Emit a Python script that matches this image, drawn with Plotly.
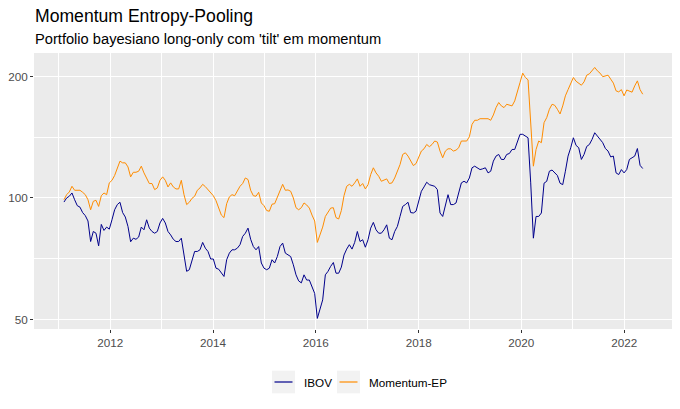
import pandas as pd
import plotly.graph_objects as go

# sample dates (regular ~19-day grid)
dates = pd.date_range("2011-02-06", periods=218, freq="455h")

momentum_ep = [
    99.0, 101.9, 103.5, 106.9, 104.5, 104.5, 104.5, 103.3, 101.9, 99.0,
    93.5, 98.1, 98.7, 95.3, 101.3, 102.9, 101.9, 109.0, 110.6, 113.7,
    118.8, 123.4, 122.2, 122.2, 119.4, 112.8, 115.8, 115.8, 116.5, 119.9,
    115.4, 111.5, 108.6, 108.6, 104.9, 105.9, 110.6, 112.8, 110.6, 106.5,
    109.0, 106.5, 105.3, 105.3, 110.6, 101.9, 96.3, 97.6, 99.8, 101.0, 104.5,
    105.9, 108.1, 106.7, 104.9, 103.1, 101.3, 98.5, 94.4, 90.7, 89.4,
    96.8, 100.6, 101.9, 101.3, 104.1, 106.9, 108.6, 112.1, 111.1, 104.5,
    101.3, 101.0, 103.3, 97.2, 95.7, 93.1, 92.7, 96.5, 96.8, 100.2,
    104.1, 108.1, 104.5, 104.7, 103.9, 100.0, 94.6, 93.5, 94.6, 97.2,
    96.1, 94.4, 90.7, 87.7, 77.6, 81.0, 84.7, 90.0, 92.0, 94.4,
    94.6, 89.4, 88.7, 93.1, 101.3, 106.9, 108.1, 106.9, 109.0, 111.5,
    106.9, 108.6, 105.3, 107.9, 114.3, 118.8, 115.4, 113.2, 110.0, 110.6,
    111.5, 108.6, 109.0, 112.1, 116.5, 121.0, 128.2, 129.4, 127.0, 123.4,
    120.3, 121.7, 125.8, 130.7, 132.4, 135.7, 134.0, 135.7, 138.4, 137.6,
    130.7, 125.8, 130.7, 132.4, 132.4, 130.7, 131.4, 133.2, 138.4, 138.4,
    138.4, 141.8, 152.2, 155.8, 155.8, 157.2, 157.2, 156.7, 157.2, 155.8,
    160.6, 167.5, 172.4,
    169.1, 167.5, 170.7, 169.7, 169.1, 174.0, 185.0, 193.3, 203.9, 198.9,
    196.2, 156.7, 119.9, 131.9, 138.4, 137.1, 153.7, 158.2, 165.9, 170.7,
    169.7, 165.9, 161.5, 169.1, 179.1, 185.6, 193.3, 198.9, 194.7, 192.6,
    190.3, 194.0, 201.5, 203.1, 206.2, 210.6, 206.6, 203.9, 199.8, 200.8,
    201.5, 197.0, 192.6, 184.3, 183.2, 185.6, 179.1, 185.2, 184.3, 182.9,
    189.6, 195.1, 185.6, 180.8,
]

ibov = [
    97.7, 100.0, 101.0, 102.9, 99.0, 95.7, 94.9, 92.0, 90.4, 87.7,
    78.0, 82.6, 81.8, 76.1, 86.0, 83.1, 84.7, 83.7, 88.3, 93.5,
    96.3, 97.6, 92.0, 89.7, 85.0, 77.9, 79.5, 79.0, 80.0, 84.7,
    83.4, 88.3, 84.2, 82.6, 81.8, 82.6, 86.7, 89.0, 86.7, 82.6,
    81.0, 79.0, 78.0, 78.0, 79.5, 71.6, 65.8, 66.4, 70.3, 73.7, 73.7,
    74.4, 77.6, 75.1, 73.7, 70.6, 70.6, 67.0, 66.6, 65.1, 63.9,
    70.3, 73.0, 74.4, 74.4, 75.1, 76.6, 80.3, 81.8, 84.2, 79.0,
    75.8, 74.4, 75.8, 69.0, 67.0, 66.4, 67.0, 70.3, 69.0, 71.6,
    75.8, 77.3, 73.0, 72.3, 71.6, 68.3, 64.5, 62.3, 61.6, 64.5,
    62.6, 62.6, 60.5, 58.0, 50.3, 52.7, 55.9, 64.5, 65.8, 67.7,
    69.2, 65.1, 65.1, 67.4, 72.2, 74.7, 76.6, 74.7, 77.6, 82.6,
    78.0, 78.8, 75.5, 78.8, 84.2, 87.0, 83.4, 81.8, 81.8, 83.4,
    85.8, 79.5, 78.8, 82.6, 85.0, 90.0, 95.3, 96.3, 97.6, 92.0,
    91.8, 92.7, 98.1, 103.9, 106.5, 109.4, 107.9, 107.3, 106.9, 104.9,
    91.8, 90.0, 95.3, 101.9, 96.3, 96.3, 97.2, 102.9, 109.0, 110.0,
    109.0, 112.1, 118.8, 119.9, 118.8, 117.6, 118.1, 118.8, 115.4, 116.5,
    123.4, 127.0, 128.2,
    124.6, 124.6, 128.2, 128.9, 131.9, 131.9, 137.6, 143.8, 143.8, 142.4,
    141.0, 109.0, 79.5, 90.0, 90.0, 91.8, 108.8, 110.0, 116.5, 117.3,
    115.4, 113.7, 108.8, 107.9, 116.5, 127.0, 133.2, 141.0, 135.0, 133.2,
    124.6, 128.2, 134.2, 135.7, 139.7, 145.1, 142.4, 139.2, 137.1, 132.6,
    130.7, 126.4, 127.0, 115.4, 114.3, 117.6, 115.4, 117.6, 124.6, 125.8,
    127.0, 132.6, 120.5, 118.3,
]

series_names = ["IBOV", "Momentum-EP"]
series_colors = ["#00008B", "#FF8C00"]

x_tick_dates = ["2012-01-01", "2014-01-01", "2016-01-01", "2018-01-01", "2020-01-01", "2022-01-01"]
x_tick_labels = ["2012", "2014", "2016", "2018", "2020", "2022"]
x_minor_dates = ["2011-01-01", "2013-01-01", "2015-01-01", "2017-01-01", "2019-01-01", "2021-01-01"]
y_tick_vals = [50, 100, 200]
y_tick_labels = ["50", "100", "200"]
y_minor_vals = [70.71, 141.42]

FONT = "Liberation Sans, Arial, sans-serif"

fig = go.Figure()
for name, vals, col in zip(series_names, [ibov, momentum_ep], series_colors):
    fig.add_trace(go.Scatter(x=dates, y=vals, mode="lines", name=name,
                             line=dict(color=col, width=1), showlegend=False))

W, H = 680, 409
L, R, T, B = 34, 8, 53, 80
pw, ph = W - L - R, H - T - B


def px(xp):
    return (xp - L) / pw


def py(yp):
    return (H - B - yp) / ph


fig.update_layout(
    template="none",
    width=W, height=H,
    margin=dict(l=L, r=R, t=T, b=B, pad=0, autoexpand=False),
    paper_bgcolor="white", plot_bgcolor="#EBEBEB",
    font=dict(family=FONT, color="#4D4D4D"),
    showlegend=False,
    xaxis=dict(
        type="date", range=["2010-07-08", "2022-12-07"], automargin=False,
        tickvals=x_tick_dates, ticktext=x_tick_labels,
        showgrid=True, gridcolor="white", gridwidth=1.1,
        ticks="outside", ticklen=3, tickwidth=1, tickcolor="#333333",
        tickfont=dict(size=11.7, color="#4D4D4D", family=FONT),
        zeroline=False, showline=False,
        minor=dict(tickvals=x_minor_dates, showgrid=True, gridcolor="white",
                   gridwidth=0.55, ticks=""),
    ),
    yaxis=dict(
        type="log", range=[1.6753, 2.3593], automargin=False,
        tickvals=y_tick_vals, ticktext=y_tick_labels,
        showgrid=True, gridcolor="white", gridwidth=1.1,
        ticks="outside", ticklen=3, tickwidth=1, tickcolor="#333333",
        tickfont=dict(size=11.7, color="#4D4D4D", family=FONT),
        zeroline=False, showline=False,
        minor=dict(tickvals=y_minor_vals, showgrid=True, gridcolor="white",
                   gridwidth=0.55, ticks=""),
    ),
)

# title & subtitle
fig.add_annotation(text="Momentum Entropy-Pooling", xref="paper", yref="paper",
                   x=px(33), y=py(16), xanchor="left", yanchor="middle",
                   showarrow=False, font=dict(size=17.6, color="black", family=FONT))
fig.add_annotation(text="Portfolio bayesiano long-only com 'tilt' em momentum",
                   xref="paper", yref="paper", x=px(33), y=py(39),
                   xanchor="left", yanchor="middle", showarrow=False,
                   font=dict(size=14.67, color="black", family=FONT))

# legend (ggplot style: grey key boxes)
key_x0 = [272, 337]
text_x = [302, 367.3]
for i, (name, col) in enumerate(zip(series_names, series_colors)):
    fig.add_shape(type="rect", xref="paper", yref="paper",
                  x0=px(key_x0[i]), x1=px(key_x0[i] + 23), y0=py(393.3), y1=py(370.7),
                  fillcolor="#F2F2F2", line=dict(width=0), layer="below")
    fig.add_shape(type="line", xref="paper", yref="paper",
                  x0=px(key_x0[i] + 2.5), x1=px(key_x0[i] + 20.5), y0=py(382), y1=py(382),
                  line=dict(color=col, width=1.2))
    fig.add_annotation(text=name, xref="paper", yref="paper", x=px(text_x[i]), y=py(382),
                       xanchor="left", yanchor="middle", showarrow=False,
                       font=dict(size=11.7, color="black", family=FONT))

fig.write_html("out.html", config={"displayModeBar": False},
               post_script="document.body.style.margin='0';document.body.style.overflow='hidden';")
